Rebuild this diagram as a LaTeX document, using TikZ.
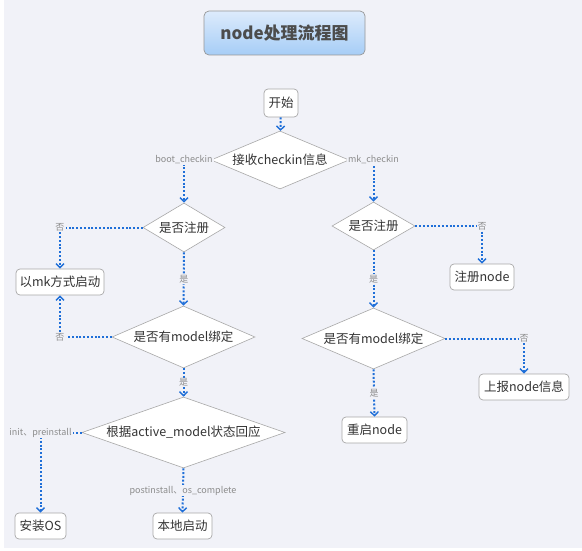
\documentclass[tikz,border=0pt]{standalone}
\usepackage{fontspec}
\setmainfont{Noto Sans CJK SC}
\usetikzlibrary{shapes.geometric,arrows.meta}
\definecolor{pagebg}{HTML}{F1F2F8}
\definecolor{linkblue}{HTML}{1F6FD8}
\definecolor{framegray}{HTML}{A8A8A8}
\definecolor{labelgray}{HTML}{8C8C8C}
\definecolor{inkgray}{HTML}{333333}
\definecolor{titletop}{HTML}{DDEBFC}
\definecolor{titlebot}{HTML}{A6CDF6}
\begin{document}
\begin{tikzpicture}[x=1pt,y=-1pt,
  stepbox/.style={draw=framegray, fill=white, rounded corners=4pt, line width=0.7pt,
    inner sep=0pt, minimum height=26pt, text=inkgray,
    font=\fontsize{12.5}{14}\selectfont},
  decision/.style={diamond, draw=framegray, fill=white, line width=0.6pt,
    inner sep=0pt, text=inkgray, font=\fontsize{12.5}{14}\selectfont},
  link/.style={draw=linkblue, line width=2pt, dash pattern=on 2pt off 1.8pt,
    -{Straight Barb[length=4pt,width=8pt,line width=1.4pt]}},
  tag/.style={fill=pagebg, text=labelgray, inner sep=1pt,
    font=\fontsize{9}{10}\selectfont},
  headline/.style={draw=framegray!90!black, rounded corners=5pt, line width=0.7pt,
    top color=titletop, bottom color=titlebot, text=black!70,
    minimum width=161pt, minimum height=44pt, inner sep=0pt,
    font=\fontsize{17}{20}\selectfont\bfseries},
]
% page
\fill[white] (0,0) rectangle (582,551);
\fill[pagebg] (4,0) rectangle (582,548);
\useasboundingbox (0,0) rectangle (582,551);

% title
\node[headline] (title) at (284.5,33) {node处理流程图};

% nodes
\node[stepbox, minimum width=34pt, minimum height=28pt] (start) at (281,103) {开始};
\node[decision, minimum width=138pt, minimum height=58pt, aspect=2.38] (chk) at (280,160) {接收checkin信息};

\node[decision, minimum width=82pt, minimum height=49pt, aspect=1.67] (regL) at (184,227.5) {是否注册};
\node[stepbox, minimum width=88pt] (mkboot) at (60,282) {以mk方式启动};
\node[decision, minimum width=143pt, minimum height=62pt, aspect=2.3] (modL) at (183.5,337) {是否有model绑定};
\node[decision, minimum width=203pt, minimum height=71pt, aspect=2.86] (state) at (183.5,432.5) {根据active\_model状态回应};
\node[stepbox, minimum width=51pt] (install) at (40.5,526) {安装OS};
\node[stepbox, minimum width=59pt] (local) at (182.5,526) {本地启动};

\node[decision, minimum width=83pt, minimum height=48pt, aspect=1.73] (regR) at (373.5,226) {是否注册};
\node[stepbox, minimum width=64pt] (regnode) at (482,277) {注册node};
\node[decision, minimum width=143pt, minimum height=61pt, aspect=2.34] (modR) at (373.5,338.5) {是否有model绑定};
\node[stepbox, minimum width=90pt] (report) at (524,387) {上报node信息};
\node[stepbox, minimum width=65pt] (reboot) at (374.5,430) {重启node};

% connectors
\draw[link] (start) -- (chk);
\draw[link] (chk.west) -| node[tag, midway] {boot\_checkin} (regL.north);
\draw[link] (chk.east) -| node[tag, midway] {mk\_checkin} (regR.north);

\draw[link] (regL.west) -| node[tag, midway] {否} (mkboot.north);
\draw[link] (regL.south) -- node[tag, midway] {是} (modL.north);
\draw[link] (modL.west) -| node[tag, midway] {否} (mkboot.south);
\draw[link] (modL.south) -- node[tag, midway] {是} (state.north);
\draw[link] (state.west) -| node[tag, midway] {init、preinstall} (install.north);
\draw[link] (state.south) -- node[tag, midway] {postinstall、os\_complete} (local.north);

\draw[link] (regR.east) -| node[tag, midway] {否} (regnode.north);
\draw[link] (regR.south) -- node[tag, midway] {是} (modR.north);
\draw[link] (modR.east) -| node[tag, midway] {否} (report.north);
\draw[link] (modR.south) -- node[tag, midway] {是} (reboot.north);
\end{tikzpicture}
\end{document}
